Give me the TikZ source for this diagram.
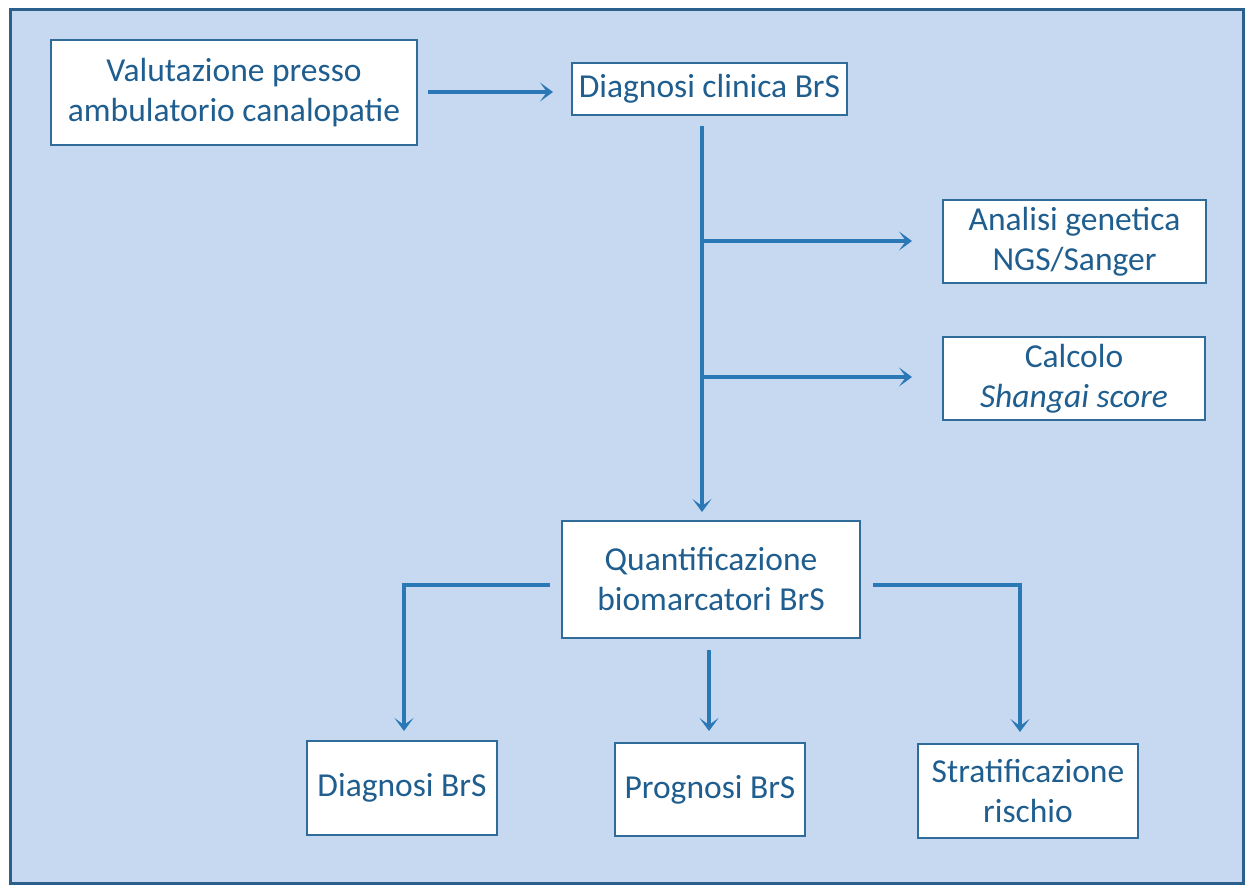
\documentclass[tikz,border=0pt]{standalone}
\usepackage{fontspec}
\setmainfont{Carlito}
\usetikzlibrary{arrows.meta,calc}
\definecolor{bgblue}{HTML}{C6D9F1}
\definecolor{framec}{HTML}{2B5F8C}
\definecolor{boxc}{HTML}{2F6C9A}
\definecolor{txtc}{HTML}{1F5E8E}
\definecolor{arrc}{HTML}{2A78B5}
\tikzset{
  box/.style={draw=boxc, line width=2pt, fill=white, text=txtc, align=center,
    font=\fontsize{33.5}{40}\selectfont, inner sep=0pt},
  arr/.style={draw=arrc, line width=3.4pt,
    -{Stealth[length=13pt,width=19pt,inset=7pt]}},
}
\begin{document}
\begin{tikzpicture}[x=1pt,y=-1pt]
\useasboundingbox (0,0) rectangle (1248,886);
\fill[white] (0,0) rectangle (1248,886);
\draw[fill=bgblue, draw=framec, line width=3pt] (10,9) rectangle (1243,883);

\node[box, minimum width=366pt, minimum height=105pt] (b1) at (234,92.5) {Valutazione presso\\ambulatorio canalopatie};
\node[box, minimum width=275pt, minimum height=52pt] (b2) at (709.5,89) {Diagnosi clinica BrS};
\node[box, minimum width=263pt, minimum height=83pt] (a) at (1074.5,241.5) {Analisi genetica\\NGS/Sanger};
\node[box, minimum width=262pt, minimum height=83pt] (c) at (1074,378.5) {Calcolo\\\textit{Shangai score}};
\node[box, minimum width=298pt, minimum height=117pt] (q) at (711,579.5) {Quantificazione\\biomarcatori BrS};
\node[box, minimum width=190pt, minimum height=94pt] (d) at (402,788) {Diagnosi BrS};
\node[box, minimum width=190pt, minimum height=93pt] (p) at (710,789.5) {Prognosi BrS};
\node[box, minimum width=220pt, minimum height=94pt] (s) at (1028,791) {Stratificazione\\rischio};

% arrow 1
\coordinate (e1) at (428,92);
\coordinate (e2) at (553,92);
\draw[arr] (e1) -- (e2);

% trunk
\coordinate (t1) at (702,126);
\coordinate (t2) at (702,512);
\draw[arr] (t1) -- (t2);
\coordinate (j1) at (702,241);
\coordinate (j2) at (702,377);
\coordinate (k1) at (912,241);
\coordinate (k2) at (912,377);
\draw[arr] (j1) -- (k1);
\draw[arr] (j2) -- (k2);

% bottom branches
\coordinate (l0) at (550,585);
\coordinate (l1) at (404,585);
\coordinate (l2) at (404,731);
\draw[arr] (l0) -- (l1) -- (l2);
\coordinate (m0) at (709,650);
\coordinate (m1) at (709,731);
\draw[arr] (m0) -- (m1);
\coordinate (r0) at (873,585);
\coordinate (r1) at (1020,585);
\coordinate (r2) at (1020,732);
\draw[arr] (r0) -- (r1) -- (r2);
\end{tikzpicture}
\end{document}
